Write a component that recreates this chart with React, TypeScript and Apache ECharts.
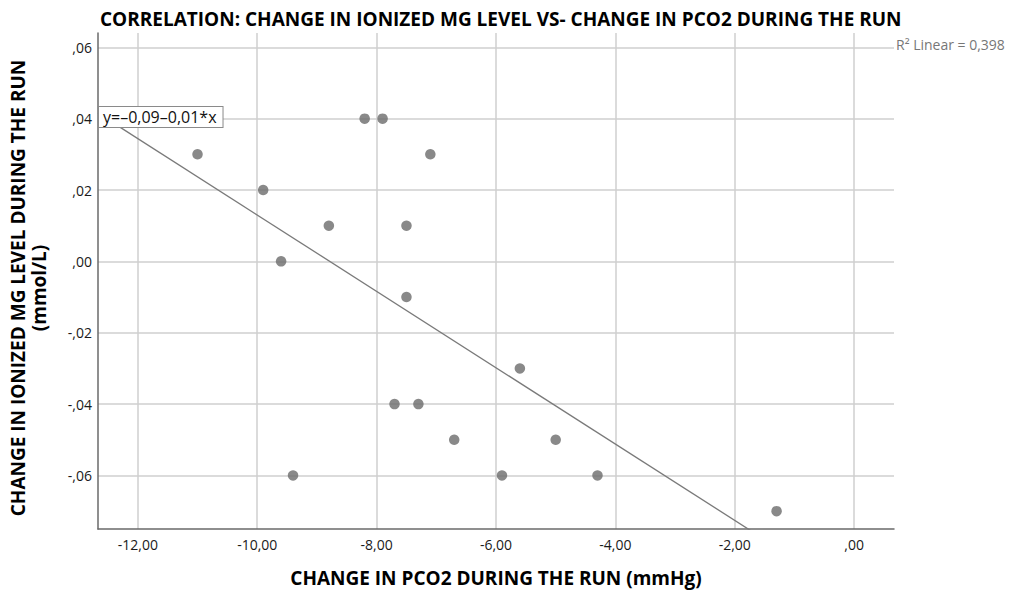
import React, { useEffect, useRef } from "react";
import * as echarts from "echarts";

// Change in pCO2 during the run (mmHg)
const pco2Change = [-11.0, -9.9, -9.6, -8.8, -8.2, -7.9, -7.1, -7.5, -7.5, -9.4, -7.7, -7.3, -6.7, -5.6, -5.9, -5.0, -4.3, -1.3];
// Change in ionized Mg level during the run (mmol/L)
const mgChange = [0.03, 0.02, 0.0, 0.01, 0.04, 0.04, 0.03, 0.01, -0.01, -0.06, -0.04, -0.04, -0.05, -0.03, -0.06, -0.05, -0.06, -0.07];

const xRange = [-12.667, 0.667];
const yRange = [-0.075, 0.064];
const fitIntercept = -0.094;
const fitSlope = -0.0107;

const titleText = "CORRELATION: CHANGE IN IONIZED MG LEVEL VS- CHANGE IN PCO2 DURING THE RUN";
const xTitle = "CHANGE IN PCO2 DURING THE RUN (mmHg)";
const yTitle = "CHANGE IN IONIZED MG LEVEL DURING THE RUN";
const yUnit = "(mmol/L)";
const equationText = "y=–0,09–0,01*x";
const r2Text = "R² Linear = 0,398";

const FONT = "'Open Sans', 'DejaVu Sans', sans-serif";

function spssNum(v: number): string {
  const s = Math.abs(v).toFixed(2).replace(".", ",");
  const t = s.startsWith("0,") ? s.slice(1) : s;
  return (v < -1e-9 ? "-" : "") + t;
}

export default function App() {
  const ref = useRef<HTMLDivElement>(null);
  useEffect(() => {
    document.body.style.margin = "0";
    if (!ref.current) return;
    const chart = echarts.init(ref.current, undefined, { renderer: "svg" });
    const points = pco2Change.map((x, i) => [x, mgChange[i]]);
    const fitLine = xRange.map((x) => [x, fitIntercept + fitSlope * x]);
    chart.setOption({
      animation: false,
      backgroundColor: "#ffffff",
      textStyle: { fontFamily: FONT },
      title: {
        text: titleText,
        left: 95,
        top: 4,
        textStyle: { fontFamily: FONT, fontSize: 19, fontWeight: "bold", color: "#000" },
      },
      grid: { left: 98, right: 120, top: 33, bottom: 62, containLabel: false },
      xAxis: {
        type: "value",
        min: xRange[0],
        max: xRange[1],
        splitNumber: 7,
        name: xTitle,
        nameLocation: "middle",
        nameGap: 39,
        nameTextStyle: { fontFamily: FONT, fontSize: 19, fontWeight: "bold", color: "#000" },
        axisLine: { show: true, onZero: false, lineStyle: { color: "#6a6a6a", width: 1.5 } },
        axisTick: { show: false },
        axisLabel: {
          formatter: (v: number) => spssNum(v),
          showMinLabel: false,
          showMaxLabel: false,
          margin: 8,
          fontFamily: FONT,
          fontSize: 14,
          color: "#1a1a1a",
        },
        splitLine: { show: true, showMinLine: false, showMaxLine: false, lineStyle: { color: "#cfcfcf", width: 1.5 } },
      },
      yAxis: {
        type: "value",
        min: yRange[0],
        max: yRange[1],
        splitNumber: 7,
        axisLine: { show: true, onZero: false, lineStyle: { color: "#6a6a6a", width: 1.5 } },
        axisTick: { show: false },
        axisLabel: {
          formatter: (v: number) => spssNum(v),
          showMinLabel: false,
          showMaxLabel: false,
          margin: 6,
          fontFamily: FONT,
          fontSize: 14,
          color: "#1a1a1a",
        },
        splitLine: { show: true, showMinLine: false, showMaxLine: false, lineStyle: { color: "#cfcfcf", width: 1.5 } },
      },
      series: [
        {
          type: "line",
          data: fitLine,
          showSymbol: false,
          symbol: "none",
          clip: true,
          lineStyle: { color: "#7a7a7a", width: 1.3 },
          z: 2,
          silent: true,
        },
        {
          type: "scatter",
          data: points,
          symbol: "circle",
          symbolSize: 10.5,
          itemStyle: { color: "#6b6b6b" },
          z: 3,
        },
      ],
      graphic: [
        {
          type: "text",
          x: 18,
          y: 288,
          rotation: Math.PI / 2,
          z: 100,
          style: {
            text: yTitle,
            font: `bold 19px ${FONT}`,
            fill: "#000",
            align: "center",
            verticalAlign: "middle",
            textAlign: "center",
            textVerticalAlign: "middle",
          },
        },
        {
          type: "text",
          x: 39,
          y: 288,
          rotation: Math.PI / 2,
          z: 100,
          style: {
            text: yUnit,
            font: `bold 19px ${FONT}`,
            fill: "#000",
            align: "center",
            verticalAlign: "middle",
            textAlign: "center",
            textVerticalAlign: "middle",
          },
        },
        {
          type: "text",
          x: 99,
          y: 107,
          z: 100,
          style: {
            text: equationText,
            font: `16px ${FONT}`,
            fill: "#111",
            backgroundColor: "#ffffff",
            borderColor: "#8a8a8a",
            borderWidth: 1,
            padding: [2, 6, 2, 4],
            align: "left",
            verticalAlign: "top",
            textAlign: "left",
            textVerticalAlign: "top",
          },
        },
        {
          type: "text",
          x: 896,
          y: 44,
          z: 100,
          style: {
            text: r2Text,
            font: `14px ${FONT}`,
            fill: "#777",
            align: "left",
            verticalAlign: "middle",
            textAlign: "left",
            textVerticalAlign: "middle",
          },
        },
      ],
    });
    return () => chart.dispose();
  }, []);
  return <div ref={ref} style={{ width: 1014, height: 592 }} />;
}
